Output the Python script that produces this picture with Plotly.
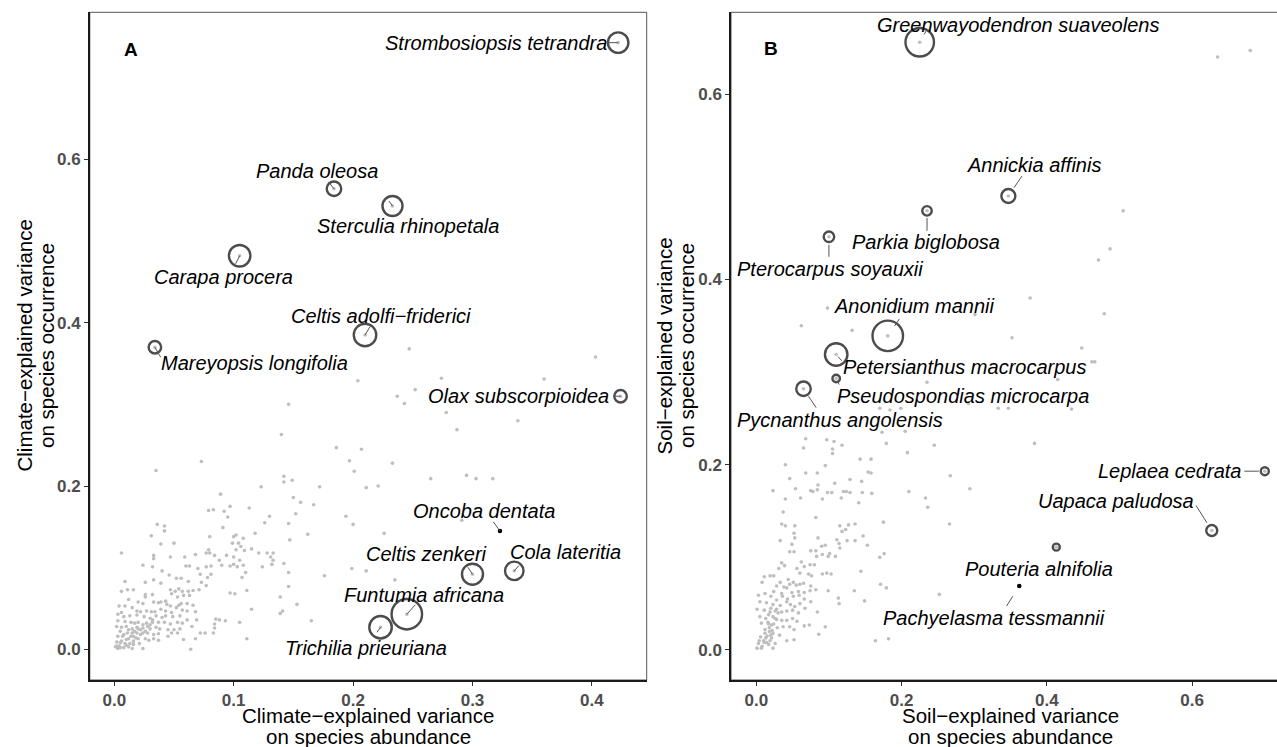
import plotly.graph_objects as go

W, H = 1277, 747
FONT = "Liberation Sans, Arial, sans-serif"

# ---------------- Panel A : climate ----------------
climate_abund = [
    0.073, 0.035, 0.142, 0.142, 0.149, 0.123, 0.089, 0.150, 0.156, 0.167,
    0.113, 0.079, 0.083, 0.092, 0.097, 0.095, 0.152, 0.130, 0.126, 0.146,
    0.036, 0.042, 0.042, 0.091, 0.118, 0.162, 0.031, 0.080, 0.102, 0.100,
    0.108, 0.147, 0.039, 0.050, 0.099, 0.104, 0.079, 0.006, 0.077, 0.080,
    0.102, 0.106, 0.109, 0.115, 0.121, 0.128, 0.133, 0.033, 0.033, 0.047,
    0.059, 0.068, 0.084, 0.094, 0.088, 0.100, 0.105, 0.131, 0.133, 0.024,
    0.032, 0.060, 0.063, 0.070, 0.077, 0.081, 0.090, 0.097, 0.100, 0.103,
    0.108, 0.124, 0.132, 0.142, 0.040, 0.046, 0.052, 0.056, 0.072, 0.078,
    0.081, 0.110, 0.146, 0.026, 0.033, 0.039, 0.062, 0.009, 0.107, 0.073,
    0.077, 0.011, 0.006, 0.016, 0.047, 0.051, 0.054, 0.057, 0.062, 0.066,
    0.071, 0.097, 0.101, 0.111, 0.146, 0.026, 0.026, 0.032, 0.048, 0.053,
    0.058, 0.063, 0.139, 0.012, 0.024, 0.020, 0.033, 0.037, 0.039, 0.043,
    0.044, 0.047, 0.054, 0.056, 0.061, 0.066, 0.153, 0.004, 0.009, 0.015,
    0.019, 0.022, 0.027, 0.031, 0.034, 0.039, 0.043, 0.048, 0.052, 0.057,
    0.061, 0.068, 0.115, 0.141, 0.139, 0.006, 0.003, 0.008, 0.013, 0.019,
    0.025, 0.030, 0.035, 0.040, 0.043, 0.049, 0.055, 0.061, 0.069, 0.085,
    0.088, 0.093, 0.105, 0.165, 0.003, 0.009, 0.014, 0.017, 0.020, 0.027,
    0.032, 0.037, 0.042, 0.047, 0.053, 0.057, 0.084, 0.002, 0.006, 0.010,
    0.015, 0.019, 0.022, 0.024, 0.030, 0.035, 0.038, 0.045, 0.050, 0.055,
    0.065, 0.084, 0.005, 0.011, 0.015, 0.019, 0.024, 0.028, 0.033, 0.037,
    0.048, 0.053, 0.076, 0.072, 0.083, 0.003, 0.007, 0.012, 0.016, 0.020,
    0.026, 0.029, 0.033, 0.037, 0.045, 0.058, 0.068, 0.111, 0.002, 0.005,
    0.009, 0.013, 0.016, 0.021, 0.001, 0.003, 0.008, 0.012, 0.015, 0.024,
    0.064,
    0.004, 0.006, 0.010, 0.008, 0.014, 0.017, 0.018, 0.012, 0.020, 0.022,
    0.026, 0.028, 0.024, 0.030, 0.032, 0.016, 0.010, 0.005, 0.002,
    0.247, 0.403, 0.204, 0.274, 0.360, 0.237, 0.252, 0.243, 0.278, 0.146,
    0.338, 0.287, 0.140, 0.186, 0.207, 0.197, 0.233, 0.201, 0.211, 0.221,
    0.265, 0.295, 0.303, 0.317, 0.194, 0.200, 0.291, 0.226, 0.172, 0.199,
    0.211, 0.176, 0.235,
]
climate_occur = [
    0.230, 0.219, 0.212, 0.205, 0.207, 0.199, 0.190, 0.186, 0.180, 0.177,
    0.173, 0.170, 0.171, 0.169, 0.175, 0.162, 0.166, 0.163, 0.155, 0.154,
    0.153, 0.151, 0.145, 0.149, 0.142, 0.141, 0.139, 0.138, 0.140, 0.138,
    0.136, 0.134, 0.129, 0.130, 0.130, 0.130, 0.122, 0.118, 0.118, 0.118,
    0.122, 0.126, 0.121, 0.123, 0.118, 0.118, 0.118, 0.115, 0.111, 0.113,
    0.113, 0.116, 0.115, 0.115, 0.109, 0.113, 0.109, 0.113, 0.109, 0.103,
    0.101, 0.102, 0.102, 0.099, 0.101, 0.102, 0.103, 0.102, 0.104, 0.101,
    0.103, 0.101, 0.104, 0.105, 0.096, 0.091, 0.087, 0.087, 0.092, 0.088,
    0.092, 0.094, 0.094, 0.082, 0.085, 0.081, 0.083, 0.083, 0.088, 0.082,
    0.078, 0.073, 0.071, 0.073, 0.073, 0.071, 0.074, 0.071, 0.071, 0.072,
    0.073, 0.069, 0.068, 0.072, 0.077, 0.067, 0.064, 0.067, 0.068, 0.064,
    0.066, 0.066, 0.064, 0.061, 0.056, 0.058, 0.058, 0.057, 0.058, 0.059,
    0.055, 0.053, 0.054, 0.056, 0.056, 0.054, 0.055, 0.053, 0.053, 0.051,
    0.047, 0.046, 0.047, 0.046, 0.046, 0.049, 0.047, 0.045, 0.051, 0.048,
    0.047, 0.046, 0.049, 0.047, 0.044, 0.045, 0.043, 0.040, 0.041, 0.042,
    0.040, 0.038, 0.041, 0.039, 0.041, 0.040, 0.041, 0.036, 0.036, 0.037,
    0.036, 0.035, 0.033, 0.035, 0.035, 0.034, 0.033, 0.032, 0.033, 0.032,
    0.033, 0.033, 0.033, 0.031, 0.033, 0.032, 0.031, 0.028, 0.027, 0.028,
    0.025, 0.027, 0.024, 0.026, 0.025, 0.027, 0.025, 0.024, 0.024, 0.025,
    0.028, 0.026, 0.022, 0.020, 0.020, 0.020, 0.020, 0.020, 0.018, 0.019,
    0.020, 0.020, 0.020, 0.020, 0.020, 0.016, 0.016, 0.013, 0.016, 0.013,
    0.013, 0.011, 0.013, 0.011, 0.016, 0.012, 0.013, 0.013, 0.009, 0.008,
    0.007, 0.007, 0.006, 0.007, 0.003, 0.001, 0.002, 0.003, 0.001, 0.001,
    0.000,
    0.004, 0.010, 0.012, 0.018, 0.016, 0.022, 0.014, 0.024, 0.025, 0.018,
    0.022, 0.028, 0.030, 0.030, 0.036, 0.010, 0.005, 0.002, 0.004,
    0.368, 0.358, 0.329, 0.332, 0.331, 0.310, 0.318, 0.301, 0.290, 0.300,
    0.280, 0.269, 0.263, 0.247, 0.245, 0.231, 0.228, 0.218, 0.198, 0.200,
    0.209, 0.213, 0.209, 0.209, 0.163, 0.153, 0.158, 0.142, 0.199, 0.099,
    0.096, 0.090, 0.085,
]

species_a = ["Strombosiopsis tetrandra", "Panda oleosa", "Sterculia rhinopetala",
             "Carapa procera", "Celtis adolfi\u2212friderici", "Mareyopsis longifolia",
             "Olax subscorpioidea", "Oncoba dentata", "Celtis zenkeri",
             "Cola lateritia", "Funtumia africana", "Trichilia prieuriana"]
species_a_abund = [0.422, 0.184, 0.233, 0.105, 0.210, 0.034, 0.424, 0.323, 0.300, 0.335, 0.245, 0.223]
species_a_occur = [0.743, 0.564, 0.543, 0.482, 0.385, 0.370, 0.310, 0.145, 0.092, 0.096, 0.043, 0.027]
species_a_weight = [22, 16, 21.5, 23, 24, 14, 14, 0, 22.5, 20, 32, 24]

# ---------------- Panel B : soil ----------------
soil_abund = [
    0.635, 0.680, 0.505, 0.487, 0.471, 0.377, 0.479, 0.301, 0.098, 0.062,
    0.132, 0.352, 0.448, 0.462, 0.466, 0.415, 0.235, 0.292, 0.333, 0.347,
    0.434, 0.170, 0.184, 0.199, 0.383, 0.294,
    0.068, 0.065, 0.097, 0.107, 0.118, 0.105, 0.105, 0.173, 0.205, 0.179,
    0.245, 0.208, 0.143, 0.158, 0.040, 0.095, 0.154, 0.158, 0.068, 0.084,
    0.046, 0.129, 0.145, 0.267, 0.085, 0.108, 0.023, 0.054, 0.075, 0.078,
    0.084, 0.098, 0.104, 0.120, 0.124, 0.129, 0.146, 0.159, 0.210, 0.040,
    0.061, 0.091, 0.117, 0.233, 0.236, 0.141, 0.037, 0.082, 0.175, 0.266,
    0.035, 0.040, 0.053, 0.115, 0.127, 0.136, 0.123, 0.118, 0.052, 0.053,
    0.033, 0.049, 0.085, 0.111, 0.125, 0.136, 0.147, 0.153, 0.114, 0.115,
    0.075, 0.082, 0.090, 0.095, 0.101, 0.099, 0.109, 0.046, 0.052, 0.083,
    0.170, 0.176, 0.091, 0.035, 0.039, 0.031, 0.062, 0.066, 0.074, 0.080,
    0.056, 0.060, 0.072, 0.076, 0.091, 0.097, 0.103, 0.144, 0.008, 0.011,
    0.019, 0.024, 0.028, 0.033, 0.044, 0.046, 0.051, 0.055, 0.060, 0.065,
    0.075, 0.038, 0.024, 0.035, 0.042, 0.049, 0.058, 0.066, 0.074, 0.082,
    0.099, 0.135, 0.171, 0.179, 0.252, 0.003, 0.012, 0.020, 0.028, 0.036,
    0.043, 0.051, 0.059, 0.066, 0.005, 0.014, 0.023, 0.033, 0.042, 0.047,
    0.053, 0.060, 0.067, 0.075, 0.113, 0.114, 0.149, 0.001, 0.011, 0.019,
    0.026, 0.035, 0.042, 0.050, 0.058, 0.084, 0.005, 0.013, 0.023, 0.028,
    0.035, 0.042, 0.050, 0.056, 0.066, 0.073, 0.095, 0.007, 0.017, 0.021,
    0.029, 0.037, 0.046, 0.052, 0.012, 0.018, 0.023, 0.032, 0.006, 0.013,
    0.021, 0.042, 0.052, 0.086, 0.003, 0.011, 0.017, 0.026, 0.001, 0.007,
    0.023, 0.164, 0.182,
    0.010, 0.015, 0.012, 0.018, 0.020, 0.016, 0.024, 0.022, 0.026, 0.030,
    0.008, 0.004, 0.014, 0.019, 0.028, 0.020, 0.017,
]
soil_occur = [
    0.640, 0.647, 0.474, 0.433, 0.421, 0.380, 0.363, 0.362, 0.369, 0.350,
    0.345, 0.337, 0.326, 0.311, 0.311, 0.292, 0.289, 0.266, 0.261, 0.261,
    0.260, 0.261, 0.259, 0.261, 0.223, 0.174,
    0.228, 0.218, 0.227, 0.225, 0.221, 0.217, 0.212, 0.235, 0.236, 0.223,
    0.221, 0.213, 0.206, 0.206, 0.200, 0.199, 0.192, 0.191, 0.191, 0.191,
    0.185, 0.184, 0.182, 0.188, 0.178, 0.180, 0.172, 0.174, 0.172, 0.171,
    0.173, 0.170, 0.170, 0.171, 0.171, 0.170, 0.170, 0.169, 0.171, 0.163,
    0.164, 0.163, 0.164, 0.164, 0.154, 0.159, 0.149, 0.143, 0.138, 0.136,
    0.136, 0.134, 0.134, 0.134, 0.135, 0.136, 0.130, 0.128, 0.126, 0.121,
    0.118, 0.114, 0.121, 0.119, 0.118, 0.118, 0.123, 0.113, 0.115, 0.110,
    0.107, 0.107, 0.112, 0.113, 0.104, 0.101, 0.101, 0.106, 0.106, 0.101,
    0.100, 0.104, 0.103, 0.094, 0.091, 0.088, 0.095, 0.090, 0.092, 0.092,
    0.088, 0.083, 0.082, 0.080, 0.082, 0.083, 0.082, 0.085, 0.073, 0.079,
    0.080, 0.080, 0.069, 0.073, 0.076, 0.071, 0.073, 0.070, 0.071, 0.072,
    0.069, 0.068, 0.063, 0.061, 0.067, 0.062, 0.063, 0.062, 0.064, 0.065,
    0.064, 0.064, 0.071, 0.067, 0.060, 0.059, 0.061, 0.058, 0.054, 0.058,
    0.055, 0.058, 0.059, 0.055, 0.052, 0.051, 0.049, 0.048, 0.052, 0.049,
    0.047, 0.050, 0.045, 0.052, 0.056, 0.050, 0.053, 0.044, 0.043, 0.041,
    0.042, 0.041, 0.042, 0.043, 0.040, 0.041, 0.036, 0.034, 0.036, 0.033,
    0.032, 0.032, 0.034, 0.031, 0.026, 0.027, 0.025, 0.029, 0.028, 0.027,
    0.024, 0.025, 0.025, 0.022, 0.022, 0.020, 0.018, 0.016, 0.014, 0.013,
    0.013, 0.010, 0.011, 0.017, 0.007, 0.008, 0.006, 0.007, 0.002, 0.002,
    0.002, 0.010, 0.012,
    0.010, 0.015, 0.018, 0.024, 0.016, 0.030, 0.028, 0.021, 0.034, 0.040,
    0.004, 0.010, 0.008, 0.010, 0.044, 0.045, 0.038,
]

species_b = ["Greenwayodendron suaveolens", "Annickia affinis", "Parkia biglobosa",
             "Pterocarpus soyauxii", "Anonidium mannii", "Petersianthus macrocarpus",
             "Pseudospondias microcarpa", "Pycnanthus angolensis", "Leplaea cedrata",
             "Uapaca paludosa", "Pouteria alnifolia", "Pachyelasma tessmannii"]
species_b_abund = [0.225, 0.347, 0.235, 0.100, 0.181, 0.110, 0.110, 0.065, 0.700, 0.627, 0.413, 0.362]
species_b_occur = [0.656, 0.490, 0.474, 0.446, 0.339, 0.319, 0.293, 0.282, 0.193, 0.129, 0.111, 0.069]
species_b_weight = [30, 15.5, 11, 12, 32, 24, 9, 16, 9.5, 12.5, 8.5, 0]

ticks_a_x = [0.0, 0.1, 0.2, 0.3, 0.4]
ticks_a_y = [0.0, 0.2, 0.4, 0.6]
ticks_b_x = [0.0, 0.2, 0.4, 0.6]
ticks_b_y = [0.0, 0.2, 0.4, 0.6]

# -------- layout configuration (pixel offsets of labels / leader segments) --------
label_off_a = [(-122, 0), (-17, -18), (16, 20), (-16, 21), (16, -19), (100, 16),
               (-102, 0), (-16, -20), (-46, -20), (51, -19), (17, -19), (-15, 21)]
seg_a = [(-12, 0, 0), (-7, -9, 0), (-5, -7, 0), (-5, 10, 0), (6, -10, 0), (7, 12, 0),
         (-9, 0, 0), (-8, -11, 0), (-6, -9, 0), (6, -7, 0), (10, -11, 0), (-5, 7, 0)]
label_off_b = [(98, -17), (26, -31), (-1, 31), (1, 32), (27, -30), (128, 13),
               (127, 17), (36, 31), (-95, 0), (-96, -29), (-17, 22), (-25, 32)]
seg_b = [(8, -14, 9), (15, -22, 10), (0, 22, 7), (0, 22, 8), (13, -19, 12), (7, 8, 3),
         (4, 8, 3), (14, 21, 9), (-22, 0, 6), (-17, -27, 9), None, (-14, 22, 12)]

GRAY = "#BEBEBE"
SEG = "#555555"


def px(x):
    return x / W


def py(y):
    return 1 - y / H


fig = go.Figure()


def add_panel(xa, ya, bx, by, sx, sy, sw):
    fig.add_trace(go.Scatter(x=bx, y=by, xaxis=xa, yaxis=ya, mode="markers",
                             marker=dict(size=3.6, color=GRAY), hoverinfo="skip",
                             showlegend=False))
    cx = [a for a, w in zip(sx, sw) if w > 0]
    cy = [b for b, w in zip(sy, sw) if w > 0]
    cw = [w for w in sw if w > 0]
    fig.add_trace(go.Scatter(x=cx, y=cy, xaxis=xa, yaxis=ya, mode="markers",
                             marker=dict(size=3.6, color=GRAY), hoverinfo="skip",
                             showlegend=False))
    fig.add_trace(go.Scatter(x=cx, y=cy, xaxis=xa, yaxis=ya, mode="markers",
                             marker=dict(symbol="circle-open", size=[w - 1.5 for w in cw],
                                         color="black", line=dict(width=2.4, color="black")),
                             hoverinfo="skip", showlegend=False))
    dx = [a for a, w in zip(sx, sw) if w == 0]
    dy = [b for b, w in zip(sy, sw) if w == 0]
    fig.add_trace(go.Scatter(x=dx, y=dy, xaxis=xa, yaxis=ya, mode="markers",
                             marker=dict(size=4.5, color="black"), hoverinfo="skip",
                             showlegend=False))


add_panel("x", "y", climate_abund, climate_occur,
          species_a_abund, species_a_occur, species_a_weight)
add_panel("x2", "y2", soil_abund, soil_occur,
          species_b_abund, species_b_occur, species_b_weight)

annotations = []


def add_labels(xref, yref, names, sx, sy, offs, segs):
    for n, x, y, (ox, oy), sg in zip(names, sx, sy, offs, segs):
        if sg is not None:
            annotations.append(dict(
                x=x, y=y, xref=xref, yref=yref, text=" ", showarrow=True,
                arrowhead=0, arrowwidth=1, arrowcolor=SEG, ax=sg[0], ay=sg[1],
                standoff=sg[2], startstandoff=0, font=dict(size=1)))
        annotations.append(dict(
            x=x, y=y, xref=xref, yref=yref, text="<i>" + n + "</i>",
            showarrow=False, xshift=ox, yshift=-oy, xanchor="center", yanchor="middle",
            font=dict(family=FONT, size=20, color="black")))


add_labels("x", "y", species_a, species_a_abund, species_a_occur, label_off_a, seg_a)
add_labels("x2", "y2", species_b, species_b_abund, species_b_occur, label_off_b, seg_b)

title_font = dict(family=FONT, size=20.5, color="black")
for cx, l1, l2 in [(368.3, "Climate\u2212explained variance", "on species abundance"),
                   (1010, "Soil\u2212explained variance", "on species abundance")]:
    annotations.append(dict(x=px(cx), y=py(715), xref="paper", yref="paper", text=l1,
                            showarrow=False, xanchor="center", yanchor="middle", font=title_font))
    annotations.append(dict(x=px(cx), y=py(736.5), xref="paper", yref="paper", text=l2,
                            showarrow=False, xanchor="center", yanchor="middle", font=title_font))
for (c1, c2), l1 in [((23.5, 46), "Climate\u2212explained variance"),
                     ((663.5, 686), "Soil\u2212explained variance")]:
    annotations.append(dict(x=px(c1), y=py(346), xref="paper", yref="paper", text=l1,
                            textangle=-90, showarrow=False, xanchor="center",
                            yanchor="middle", font=title_font))
    annotations.append(dict(x=px(c2), y=py(346), xref="paper", yref="paper",
                            text="on species occurrence", textangle=-90, showarrow=False,
                            xanchor="center", yanchor="middle", font=title_font))

for (cx, cy), letter in [((130.6, 49), "A"), ((771.4, 48), "B")]:
    annotations.append(dict(x=px(cx), y=py(cy), xref="paper", yref="paper",
                            text="<b>" + letter + "</b>", showarrow=False,
                            xanchor="center", yanchor="middle",
                            font=dict(family=FONT, size=19, color="black")))

tickfont = dict(family=FONT, size=17, color="#4D4D4D")
axis_common = dict(showgrid=False, zeroline=False, showline=True, linecolor="#1a1a1a",
                   linewidth=1.5, ticks="outside", ticklen=4, tickwidth=1.3,
                   tickcolor="#333333", tickfont=tickfont, mirror=False, fixedrange=True)


def fmt(v):
    return "<b>" + f"{v:.1f}" + "</b>"


fig.update_layout(
    width=W, height=H, margin=dict(l=0, r=0, t=0, b=0, pad=0),
    paper_bgcolor="white", plot_bgcolor="white", showlegend=False,
    xaxis=dict(domain=[px(89.8), px(646.7)], range=[-0.0205, 0.4459],
               tickvals=ticks_a_x, ticktext=[fmt(v) for v in ticks_a_x], anchor="y",
               ticklabelstandoff=0, **axis_common),
    yaxis=dict(domain=[py(680), py(12.3)], range=[-0.0376, 0.7802],
               tickvals=ticks_a_y, ticktext=[fmt(v) for v in ticks_a_y], anchor="x",
               **axis_common),
    xaxis2=dict(domain=[px(731), 1.0], range=[-0.0348, 0.7168],
                tickvals=ticks_b_x, ticktext=[fmt(v) for v in ticks_b_x], anchor="y2",
                ticklabelstandoff=0, **axis_common),
    yaxis2=dict(domain=[py(680), py(12.3)], range=[-0.0324, 0.6883],
                tickvals=ticks_b_y, ticktext=[fmt(v) for v in ticks_b_y], anchor="x2",
                **axis_common),
    annotations=annotations,
    shapes=[
        dict(type="rect", xref="paper", yref="paper", x0=px(89.8), x1=px(646.7),
             y0=py(680), y1=py(12.3), line=dict(color="#555555", width=1), layer="below"),
        dict(type="rect", xref="paper", yref="paper", x0=px(731), x1=px(1300),
             y0=py(680), y1=py(12.3), line=dict(color="#555555", width=1), layer="below"),
    ],
)

fig.write_html("out.html")
